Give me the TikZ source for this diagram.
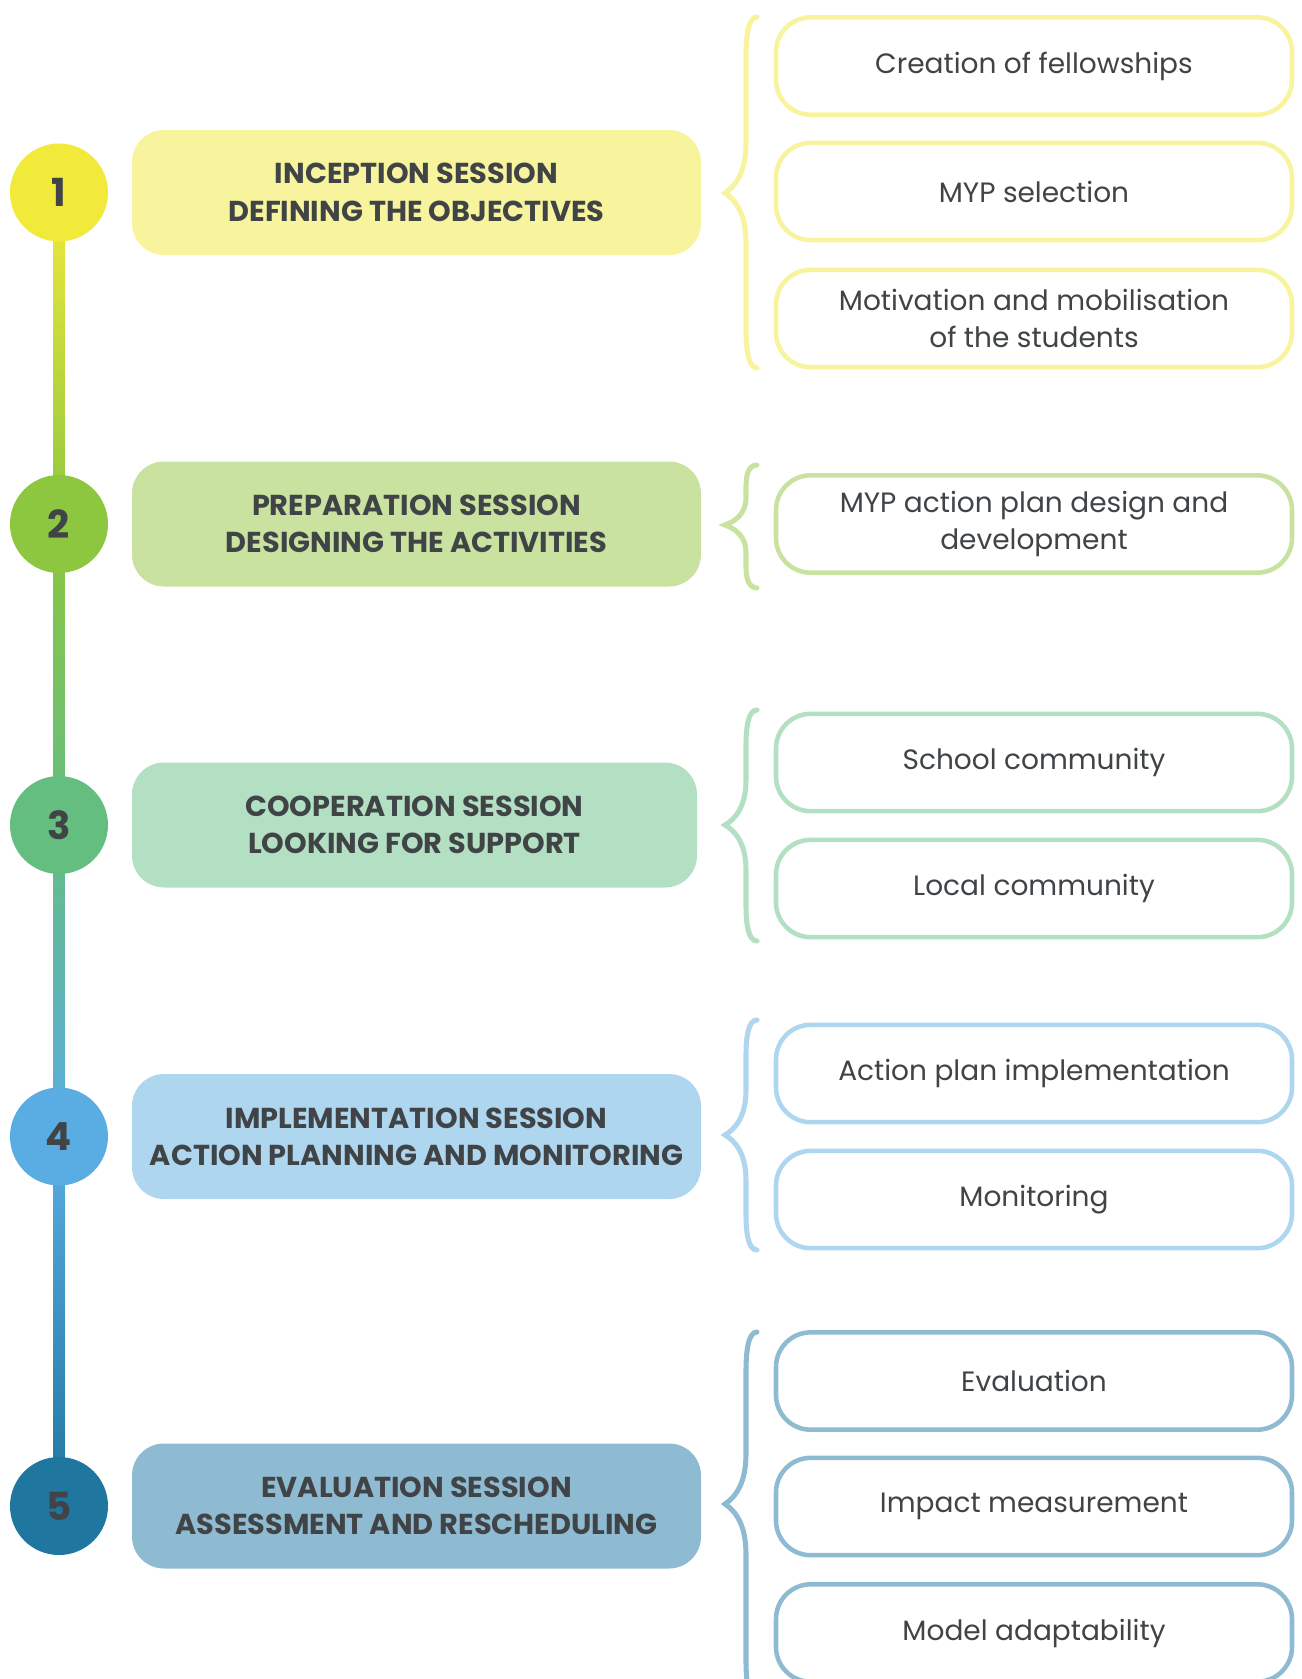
\documentclass[tikz,border=0pt]{standalone}
\usepackage{fontspec}
\setmainfont{Poppins}
\usetikzlibrary{calc,backgrounds}

\definecolor{txt}{HTML}{404447}
\definecolor{yelC}{HTML}{F2EA3A}
\definecolor{yelL}{HTML}{F8F49E}
\definecolor{grnC}{HTML}{8DC63F}
\definecolor{grnL}{HTML}{C9E2A0}
\definecolor{tealC}{HTML}{64BE80}
\definecolor{tealL}{HTML}{B3E0C3}
\definecolor{bluC}{HTML}{5AADE2}
\definecolor{bluL}{HTML}{AED6EF}
\definecolor{dkbC}{HTML}{1F769F}
\definecolor{dkbL}{HTML}{8FBBD2}

% curly brace: colour, top y, tip y, bottom y, curl size
\newcommand\stagebrace[5]{%
  \draw[brc,#1] (757,#2) .. controls (748,#2) and (746,#2+#5) .. (746,#2+2*#5)
    -- (746,#3-2.5*#5) .. controls (746,#3-#5) and (735,#3-#5/3) .. (725,#3)
    .. controls (735,#3+#5/3) and (746,#3+#5) .. (746,#3+2.5*#5)
    -- (746,#4-2*#5) .. controls (746,#4-#5) and (748,#4) .. (757,#4);}

\begin{document}
\begin{tikzpicture}[x=0.75pt,y=-0.75pt,
  stage/.style={rounded corners=24pt, minimum width=426.75pt, minimum height=93.75pt,
    align=center, text=txt, inner sep=0pt,
    font=\fontsize{21.6}{28}\selectfont\bfseries},
  num/.style={circle, minimum size=73.5pt, inner sep=0pt, text=txt,
    font=\fontsize{29}{30}\selectfont\bfseries},
  item/.style={draw, line width=3.4pt, rounded corners=26pt, minimum width=387pt,
    minimum height=73pt, align=center, text=txt, fill=white, inner sep=0pt,
    font=\fontsize{21}{28}\selectfont},
  brc/.style={line width=3.8pt, line cap=round}]
\useasboundingbox (0,0) rectangle (1302,1679);
\clip (0,0) rectangle (1302,1679);

% numbered stage markers
\node[num, fill=yelC]  (c1) at (59,192.5) {1};
\node[num, fill=grnC]  (c2) at (59,524)   {2};
\node[num, fill=tealC] (c3) at (59,825)   {3};
\node[num, fill=bluC]  (c4) at (59,1136.5){4};
\node[num, fill=dkbC]  (c5) at (59,1506)  {5};

% timeline joining the markers
\begin{pgfonlayer}{background}
  \shade[top color=yelC,  bottom color=grnC]  ($(c1.center)+(-5.5,0)$) rectangle ($(c2.center)+(5.5,0)$);
  \shade[top color=grnC,  bottom color=tealC] ($(c2.center)+(-5.5,0)$) rectangle ($(c3.center)+(5.5,0)$);
  \shade[top color=tealC, bottom color=bluC]  ($(c3.center)+(-5.5,0)$) rectangle ($(c4.center)+(5.5,0)$);
  \shade[top color=bluC,  bottom color=dkbC]  ($(c4.center)+(-5.5,0)$) rectangle ($(c5.center)+(5.5,0)$);
\end{pgfonlayer}

% session boxes
\node[stage, fill=yelL]  (s1) at (416.5,192.5) {INCEPTION SESSION\\DEFINING THE OBJECTIVES};
\node[stage, fill=grnL]  (s2) at (416.5,524)   {PREPARATION SESSION\\DESIGNING THE ACTIVITIES};
\node[stage, fill=tealL, minimum width=423.75pt] (s3) at (414.5,825) {COOPERATION SESSION\\LOOKING FOR SUPPORT};
\node[stage, fill=bluL]  (s4) at (416.5,1136.5){IMPLEMENTATION SESSION\\ACTION PLANNING AND MONITORING};
\node[stage, fill=dkbL]  (s5) at (416.5,1506)  {EVALUATION SESSION\\ASSESSMENT AND RESCHEDULING};

% braces
\stagebrace{yelL}{17}{193}{368}{20}
\stagebrace{grnL}{465}{525}{588}{11}
\stagebrace{tealL}{710}{825}{941}{18}
\stagebrace{bluL}{1020}{1135}{1250}{18}
\stagebrace{dkbL}{1332}{1504}{1700}{20}

% activity boxes
\node[item, draw=yelL]  (a1) at (1034,66)     {Creation of fellowships};
\node[item, draw=yelL]  (a2) at (1034,191.5)  {MYP selection};
\node[item, draw=yelL]  (a3) at (1034,318.5)  {Motivation and mobilisation\\of the students};
\node[item, draw=grnL]  (b1) at (1034,524)    {MYP action plan design and\\development};
\node[item, draw=tealL] (d1) at (1034,762.5)  {School community};
\node[item, draw=tealL] (d2) at (1034,888.5)  {Local community};
\node[item, draw=bluL]  (e1) at (1034,1073.5) {Action plan implementation};
\node[item, draw=bluL]  (e2) at (1034,1199.5) {Monitoring};
\node[item, draw=dkbL]  (f1) at (1034,1381)   {Evaluation};
\node[item, draw=dkbL]  (f2) at (1034,1506.5) {Impact measurement};
\node[item, draw=dkbL]  (f3) at (1034,1633)   {Model adaptability};
\end{tikzpicture}
\end{document}
